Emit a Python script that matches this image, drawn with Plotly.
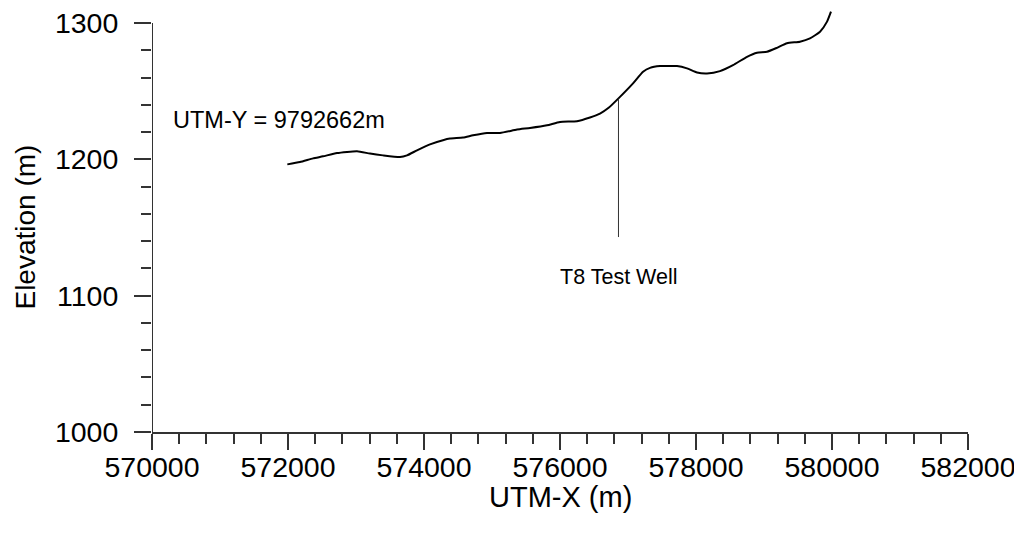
import plotly.graph_objects as go

# Profile data (UTM-X in m, elevation in m)
utm_x = [571990, 572176, 572368, 572515, 572721, 573015, 573206, 573397, 573647, 573750,
         573897, 574088, 574279, 574382, 574574, 574721, 574926, 575118, 575368, 575559,
         575809, 576000, 576250, 576441, 576588, 576720, 576882, 577074, 577221,
         577324, 577471, 577721, 577868, 578015, 578162, 578353, 578544, 578750, 578897,
         579044, 579191, 579338, 579529, 579676, 579824, 579927, 579985]
elev = [1196.3, 1198.0, 1200.7, 1202.2, 1204.6, 1205.9, 1204.2, 1202.9, 1201.7, 1202.9,
        1206.6, 1211.0, 1214.0, 1215.2, 1216.0, 1217.6, 1219.3, 1219.3, 1221.8, 1223.0,
        1225.0, 1227.4, 1228.0, 1230.7, 1233.6, 1238.0, 1245.8, 1255.7, 1264.2,
        1267.1, 1268.4, 1268.4, 1266.7, 1263.7, 1263.0, 1264.7, 1269.1, 1275.2, 1278.2,
        1278.9, 1281.8, 1285.1, 1286.3, 1288.7, 1293.6, 1301.0, 1308.3]

well_x = [576860, 576860]
well_y = [1244.5, 1143.0]

x_ticks = [570000, 572000, 574000, 576000, 578000, 580000, 582000]
x_ticktext = ["570000", "572000", "574000", "576000", "578000", "580000", "582000"]
y_ticks = [1000, 1100, 1200, 1300]
y_ticktext = ["1000", "1100", "1200", "1300"]

FONT = "Arial, Liberation Sans, sans-serif"
AX = "#333333"

fig = go.Figure()
fig.add_trace(go.Scatter(x=utm_x, y=elev, mode="lines",
                         line=dict(color="black", width=2, shape="spline", smoothing=0.5),
                         showlegend=False, hoverinfo="skip"))
fig.add_trace(go.Scatter(x=well_x, y=well_y, mode="lines",
                         line=dict(color=AX, width=1),
                         showlegend=False, hoverinfo="skip"))

# left axis line only up to 1300
fig.add_shape(type="line", xref="x", yref="y", x0=570000, x1=570000, y0=1000, y1=1300,
              line=dict(color=AX, width=2))

fig.add_annotation(x=570280, y=1228.7, text="UTM-Y = 9792662m", showarrow=False,
                   xanchor="left", yanchor="middle", font=dict(family=FONT, size=23.5, color="black"))
fig.add_annotation(x=576867, y=1114, text="T8 Test Well", showarrow=False,
                   xanchor="center", yanchor="middle", font=dict(family=FONT, size=21.5, color="black"))

# axis titles
fig.add_annotation(xref="paper", yref="paper", x=0.5, y=-0.153, text="UTM-X (m)", showarrow=False,
                   xanchor="center", yanchor="middle", font=dict(family=FONT, size=29, color="black"))
fig.add_annotation(xref="paper", yref="y", x=-0.1556, y=1150, text="Elevation (m)", showarrow=False,
                   textangle=-90, xanchor="center", yanchor="middle", borderpad=0,
                   font=dict(family=FONT, size=28, color="black"))

fig.update_xaxes(range=[570000, 582000], showgrid=False, zeroline=False,
                 showline=True, linecolor=AX, linewidth=2,
                 ticks="outside", ticklen=16, tickwidth=2, tickcolor=AX,
                 tickvals=x_ticks, ticktext=x_ticktext, ticklabelstandoff=-7,
                 ticklabeloverflow="allow",
                 minor=dict(ticks="outside", ticklen=10, tickwidth=2, tickcolor=AX,
                            dtick=400, tick0=570000, showgrid=False),
                 tickfont=dict(family=FONT, size=28.5, color="black"))
fig.update_yaxes(range=[1000, 1311], showgrid=False, zeroline=False, showline=False,
                 ticks="outside", ticklen=17, tickwidth=2, tickcolor=AX,
                 tickvals=y_ticks, ticktext=y_ticktext, ticklabelstandoff=10,
                 ticklabeloverflow="allow",
                 minor=dict(ticks="outside", ticklen=10, tickwidth=2, tickcolor=AX,
                            dtick=20, tick0=1000, showgrid=False),
                 tickfont=dict(family=FONT, size=28.5, color="black"))

fig.update_layout(width=1014, height=525, plot_bgcolor="white", paper_bgcolor="white",
                  margin=dict(l=144, r=54, t=0, b=101, autoexpand=False), showlegend=False)

fig.write_html("out.html")
